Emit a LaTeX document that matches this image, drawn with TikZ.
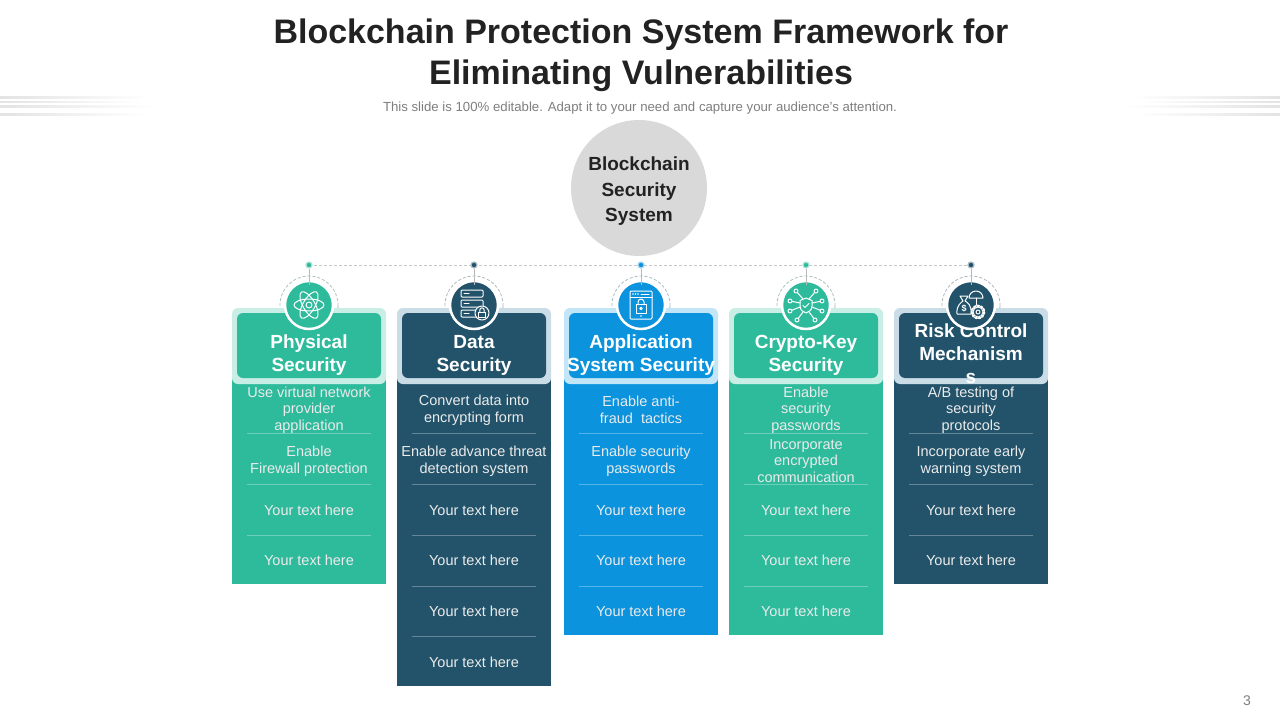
\documentclass[tikz,border=0pt]{standalone}
\usepackage{fontspec}
\setmainfont{Liberation Sans}
\usetikzlibrary{calc}
\definecolor{cteal}{HTML}{2EBB9C}
\definecolor{cnavy}{HTML}{22536A}
\definecolor{cblue}{HTML}{0B93DE}
\definecolor{lteal}{HTML}{C8EEE5}
\definecolor{lnavy}{HTML}{CADDE7}
\definecolor{lblue}{HTML}{C2E5F7}
\definecolor{ctitle}{HTML}{222222}
\definecolor{csub}{HTML}{7F7F7F}
\newcommand\colframe[4]{% cx, main, light, bottom
  \fill[#2] (#1-77,370) rectangle (#1+77,#4);
  \draw[dashed, #3!60!gray, line width=0.8, dash pattern=on 3pt off 2pt] (#1,305) circle (29);
  \fill[#3, rounded corners=6] (#1-77,308) rectangle (#1+77,384);
  \fill[#2, rounded corners=6] (#1-72,313) rectangle (#1+72,378);
}
\tikzset{
  headtxt/.style={text=white, align=center, font=\fontsize{19}{23}\selectfont\bfseries, inner sep=0},
  rowtxt/.style={text=white!92!black, align=center, font=\fontsize{14.5}{16.5}\selectfont, inner sep=0},
  sepline/.style={white, opacity=0.3, line width=0.7},
  iconc/.style={circle, draw=white, line width=2.5, minimum size=48, inner sep=0},
  dotc/.style={circle, draw=#1!40!white, line width=1.2, fill=#1, minimum size=6, inner sep=0},
  glyph/.style={white, line width=1, line cap=round, line join=round},
  deco/.style={left color=gray!22, right color=white},
  decor/.style={right color=gray!22, left color=white}
}
\begin{document}
\begin{tikzpicture}[x=1pt,y=-1pt]
\useasboundingbox (0,0) rectangle (1280,720);
\fill[white] (0,0) rectangle (1280,720);

% decorative lines
\shade[deco] (0,96) rectangle (150,98);
\shade[deco] (0,101) rectangle (140,102.5);
\shade[deco] (0,105) rectangle (155,107);
\shade[deco] (0,113) rectangle (145,115);
\shade[decor] (1130,96) rectangle (1280,98);
\shade[decor] (1140,101) rectangle (1280,102.5);
\shade[decor] (1125,105) rectangle (1280,107);
\shade[decor] (1135,113) rectangle (1280,115);

% title
\node[font=\fontsize{34}{41}\selectfont\bfseries, text=ctitle, anchor=base, inner sep=0] (title1) at (641,43) {Blockchain Protection System Framework for};
\node[font=\fontsize{34}{41}\selectfont\bfseries, text=ctitle, anchor=base, inner sep=0] (title2) at (641,84) {Eliminating Vulnerabilities};
\node[font=\fontsize{13.2}{15}\selectfont, text=csub, anchor=base, inner sep=0] (sub) at (640,111.5) {This slide is 100\% editable. Adapt it to your need and capture your audience’s attention.};

% central circle
\node[circle, fill=gray!30, minimum size=136, inner sep=0] (hub) at (639,188) {};
\node[font=\fontsize{19}{25.5}\selectfont\bfseries, text=ctitle, align=center] (hubt) at (639,191.5) {Blockchain\\Security\\System};

% dots and dashed line
\coordinate (d1) at (309,265);
\coordinate (d2) at (474,265);
\coordinate (d3) at (641,265);
\coordinate (d4) at (806,265);
\coordinate (d5) at (971,265);
\draw[gray!45, line width=0.6, dash pattern=on 3pt off 2pt] (d1) -- (d5);
\node[dotc=cteal] (e1) at (d1) {};
\node[dotc=cnavy] (e2) at (d2) {};
\node[dotc=cblue] (e3) at (d3) {};
\node[dotc=cteal] (e4) at (d4) {};
\node[dotc=cnavy] (e5) at (d5) {};

% columns
\colframe{309}{cteal}{lteal}{584}
\colframe{474}{cnavy}{lnavy}{686}
\colframe{641}{cblue}{lblue}{635}
\colframe{806}{cteal}{lteal}{635}
\colframe{971}{cnavy}{lnavy}{584}

% headers
\node[headtxt] (h1) at (309,355) {Physical\\Security};
\node[headtxt] (h2) at (474,355) {Data\\Security};
\node[headtxt] (h3) at (641,355) {Application\\System Security};
\node[headtxt] (h4) at (806,355) {Crypto-Key\\Security};
\node[headtxt] (h5) at (971,353.5) {Risk Control\\Mechanism\\s};

% separators
\foreach \y in {433,484,535} \draw[sepline] (309-62,\y) -- (309+62,\y);
\foreach \y in {433,484,535,586,636} \draw[sepline] (474-62,\y) -- (474+62,\y);
\foreach \y in {433,484,535,586} \draw[sepline] (641-62,\y) -- (641+62,\y);
\foreach \y in {433,484,535,586} \draw[sepline] (806-62,\y) -- (806+62,\y);
\foreach \y in {433,484,535} \draw[sepline] (971-62,\y) -- (971+62,\y);

% rows col1
\node[rowtxt] (r11) at (309,410) {Use virtual network\\provider\\application};
\node[rowtxt] (r12) at (309,461) {Enable\\Firewall protection};
\node[rowtxt] (r13) at (309,510) {Your text here};
\node[rowtxt] (r14) at (309,560) {Your text here};
% col2
\node[rowtxt] (r21) at (474,410) {Convert data into\\encrypting form};
\node[rowtxt] (r22) at (474,461) {Enable advance threat\\detection system};
\node[rowtxt] (r23) at (474,510) {Your text here};
\node[rowtxt] (r24) at (474,560) {Your text here};
\node[rowtxt] (r25) at (474,611) {Your text here};
\node[rowtxt] (r26) at (474,662) {Your text here};
% col3
\node[rowtxt] (r31) at (641,410) {Enable anti-\\fraud\ \ tactics};
\node[rowtxt] (r32) at (641,461) {Enable security\\passwords};
\node[rowtxt] (r33) at (641,510) {Your text here};
\node[rowtxt] (r34) at (641,560) {Your text here};
\node[rowtxt] (r35) at (641,611) {Your text here};
% col4
\node[rowtxt] (r41) at (806,410) {Enable\\security\\passwords};
\node[rowtxt] (r42) at (806,461) {Incorporate\\encrypted\\communication};
\node[rowtxt] (r43) at (806,510) {Your text here};
\node[rowtxt] (r44) at (806,560) {Your text here};
\node[rowtxt] (r45) at (806,611) {Your text here};
% col5
\node[rowtxt] (r51) at (971,410) {A/B testing of\\security\\protocols};
\node[rowtxt] (r52) at (971,461) {Incorporate early\\warning system};
\node[rowtxt] (r53) at (971,510) {Your text here};
\node[rowtxt] (r54) at (971,560) {Your text here};

% icons
\node[iconc, fill=cteal] (i1) at (309,305) {};
\node[iconc, fill=cnavy] (i2) at (474,305) {};
\node[iconc, fill=cblue] (i3) at (641,305) {};
\node[iconc, fill=cteal] (i4) at (806,305) {};
\node[iconc, fill=cnavy] (i5) at (971,305) {};
\foreach \n in {1,...,5}
  \draw[gray!55, line width=0.6] (e\n) -- ([yshift=-5pt]i\n.north);

% atom
\begin{scope}[shift={(309,305)}, glyph]
  \draw (0,0) circle (3);
  \foreach \a in {0,60,120} \draw[rotate=\a] (0,0) ellipse (15 and 6);
\end{scope}
% server + lock
\begin{scope}[shift={(474,305)}, glyph]
  \draw[rounded corners=1] (-13,-15) rectangle (9,-8);
  \draw[rounded corners=1] (-13,-5) rectangle (9,2);
  \draw[rounded corners=1] (-13,5) rectangle (3,12);
  \foreach \yy in {-11.5,-1.5,8.5} \draw (-10,\yy) -- (-5,\yy);
  \fill[cnavy] (8,8) circle (7.5);
  \draw (8,8) circle (7);
  \draw (4.5,7) rectangle (11.5,12.5);
  \draw (5.8,7) -- (5.8,5) arc[start angle=180, end angle=360, radius=2.2] -- (10.2,7);
\end{scope}
% browser + lock
\begin{scope}[shift={(641,305)}, glyph]
  \draw[rounded corners=1] (-11,-14) rectangle (11,14);
  \draw (-11,-8) -- (11,-8);
  \foreach \xx in {-8,-5.5,-3} \fill[white] (\xx,-11) circle (0.8);
  \draw (0,-11) -- (8,-11);
  \draw (-5,-1) rectangle (5,8);
  \draw (-3,-1) -- (-3,-3) arc[start angle=180, end angle=360, radius=3] -- (3,-1);
  \draw (0,3.5) circle (1.2);
  \fill[white] (0,11) circle (0.8);
\end{scope}
% network shield
\begin{scope}[shift={(806,305)}, glyph]
  \draw (0,-7) -- (6,-4.5) -- (6,1) .. controls (6,5) and (3,7) .. (0,8) .. controls (-3,7) and (-6,5) .. (-6,1) -- (-6,-4.5) -- cycle;
  \draw (-3,0.5) -- (-1,2.5) -- (3,-1.5);
  \foreach \px/\py/\qx/\qy in {-16/-4/-6/-2, -10/-14/-3/-6, 10/-14/3/-6, 16/-4/6/-2, 16/6/6/2, 9/15/3/7, -9/15/-3/7, -16/6/-6/2}
  { \draw (\px,\py) circle (2); \draw ($(\px,\py)!2.3pt!(\qx,\qy)$) -- (\qx,\qy); }
\end{scope}
% risk: bag, umbrella, gear
\begin{scope}[shift={(971,305)}, glyph]
  \draw (-14,9) .. controls (-15,0) and (-9,-3) .. (-8,-4) -- (-11,-9) -- (-3,-9) -- (-6,-4) .. controls (-4,-3) and (1,0) .. (0,9) -- cycle;
  \node[text=white, font=\fontsize{9}{9}\selectfont\bfseries, inner sep=0] (dol) at (-7,3) {\$};
  \draw (12,-7) arc[start angle=0, end angle=-180, radius=7] -- cycle;
  \draw (5,-7) -- (5,0);
  \draw[line width=2, dash pattern=on 2pt off 1.6pt] (7,7) circle (6.3);
  \draw (7,7) circle (5);
  \draw (7,7) circle (2);
\end{scope}

% page number
\node[font=\fontsize{14}{16}\selectfont, text=csub] (pg) at (1247,701) {3};
\end{tikzpicture}
\end{document}
